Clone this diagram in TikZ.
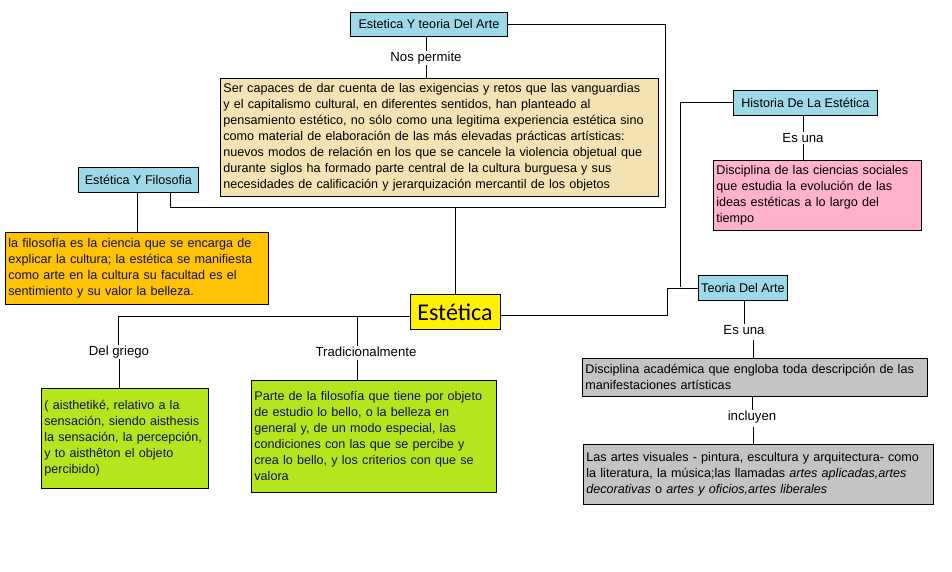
\documentclass[tikz,border=0pt]{standalone}
\usepackage{fontspec}
\setmainfont{Liberation Sans}
\newfontfamily\carlitofont{Carlito}
\definecolor{bluebox}{HTML}{9ED9EA}
\definecolor{beige}{HTML}{F3E3B3}
\definecolor{pinkb}{HTML}{FFB3CB}
\definecolor{orangeb}{HTML}{FFC305}
\definecolor{greenb}{HTML}{B5E61D}
\definecolor{greyb}{HTML}{C3C3C3}
\definecolor{yellowb}{HTML}{FFF200}
\definecolor{navy}{HTML}{10104A}
\begin{document}
\begin{tikzpicture}[x=1pt,y=-1pt,
  box/.style={draw,line width=0.8pt,anchor=north west,align=left,inner xsep=3pt,inner ysep=2pt,font=\fontsize{12.6}{16}\selectfont},
  ttl/.style={draw,line width=0.8pt,anchor=north west,align=center,inner sep=0pt,font=\fontsize{12.6}{14}\selectfont,fill=bluebox},
  lbl/.style={font=\fontsize{13.2}{15}\selectfont,inner sep=1pt},
  ln/.style={line width=0.8pt}]
\useasboundingbox (0,0) rectangle (952,572);
\node[ttl,minimum width=157,minimum height=24] (teo) at (350,12) {Estetica Y teoria Del Arte};
\node[lbl] (nos) at (426,58) {Nos permite};
\node[box,fill=beige,text width=432,minimum width=438,minimum height=118] (bei) at (220,78) {Ser capaces de dar cuenta de las exigencias y retos que las vanguardias\\y el capitalismo cultural, en diferentes sentidos, han planteado al\\pensamiento estético, no sólo como una legitima experiencia estética sino\\como material de elaboración de las más elevadas prácticas artísticas:\\nuevos modos de relación en los que se cancele la violencia objetual que\\durante siglos ha formado parte central de la cultura burguesa y sus\\necesidades de calificación y jerarquización mercantil de los objetos};
\node[ttl,minimum width=120,minimum height=25] (fil) at (78,167) {Estética Y Filosofia};
\node[box,fill=orangeb,text width=257,minimum width=263,minimum height=72,text=navy] (ora) at (5,232) {la filosofía es la ciencia que se encarga de\\explicar la cultura; la estética se manifiesta\\como arte en la cultura su facultad es el\\sentimiento y su valor la belleza.};
\node[ttl,minimum width=144,minimum height=25] (his) at (733,90) {Historia De La Estética};
\node[lbl] (es1) at (803,138) {Es una};
\node[box,fill=pinkb,text width=202,minimum width=208,minimum height=70] (pin) at (713,160) {Disciplina de las ciencias sociales\\que estudia la evolución de las\\ideas estéticas a lo largo del\\tiempo};
\node[draw,line width=0.8pt,fill=yellowb,minimum width=90,minimum height=35,font=\carlitofont\fontsize{24}{26}\selectfont,inner sep=0pt] (est) at (455,312) {Estética};
\node[ttl,minimum width=89,minimum height=25] (tda) at (698,275) {Teoria Del Arte};
\node[lbl] (es2) at (744,330) {Es una};
\node[box,fill=greyb,text width=339,minimum width=345,minimum height=38] (g1) at (582,358) {Disciplina académica que engloba toda descripción de las\\manifestaciones artísticas};
\node[lbl] (inc) at (752,417) {incluyen};
\node[box,fill=greyb,text width=344,minimum width=350,minimum height=60] (g2) at (583,444) {Las artes visuales - pintura, escultura y arquitectura- como\\la literatura, la música;las llamadas \textit{artes aplicadas,artes}\\\textit{decorativas} o \textit{artes y oficios,artes liberales}};
\node[lbl] (dg) at (119,352) {Del griego};
\node[lbl] (tr) at (366,352) {Tradicionalmente};
\node[box,fill=greenb,text width=161,minimum width=167,minimum height=100,text=navy] (gr1) at (41,388) {( aisthetiké, relativo a la\\sensación, siendo aisthesis\\la sensación, la percepción,\\y to aisthêton el objeto\\percibido)};
\node[box,fill=greenb,text width=239,minimum width=245,minimum height=112,text=navy] (gr2) at (251,380) {Parte de la filosofía que tiene por objeto\\de estudio lo bello, o la belleza en\\general y, de un modo especial, las\\condiciones con las que se percibe y\\crea lo bello, y los criterios con que se\\valora};
\coordinate (c1) at (665,207);
\coordinate (c2) at (667,315);
\coordinate (c3) at (680,287);
\coordinate (c4) at (118,316);
\coordinate (c5) at (357,316);
\coordinate (f1) at (170,192);
\coordinate (f2) at (137,192);
\coordinate (t1) at (357,360);
\coordinate (a1) at (753,340);
\coordinate (a2) at (753,427);
% connectors
\draw[ln] (teo.east) -| (c1) -| (f1);
\draw[ln] (est.north) -- (est.north |- c1);
\draw[ln] (teo.south -| nos.north) -- (nos.north);
\draw[ln] (nos.south) -- (nos.south |- bei.north);
\draw[ln] (f2) -- (f2 |- ora.north);
\draw[ln] (est.east |- c2) -- (c2) |- (tda.west);
\draw[ln] (c3) |- (his.west);
\draw[ln] (his.south -| es1.north) -- (es1.north);
\draw[ln] (es1.south) -- (es1.south |- pin.north);
\draw[ln] (est.west |- c4) -- (c4) -- (c4 |- dg.north);
\draw[ln] (c5) -- (c5 |- tr.north);
\draw[ln] (dg.south) -- (dg.south |- gr1.north);
\draw[ln] (t1) -- (t1 |- gr2.north);
\draw[ln] (tda.south -| es2.north) -- (es2.north);
\draw[ln] (a1) -- (a1 |- g1.north);
\draw[ln] (g1.south -| inc.north) -- (inc.north);
\draw[ln] (a2) -- (a2 |- g2.north);
\end{tikzpicture}
\end{document}
